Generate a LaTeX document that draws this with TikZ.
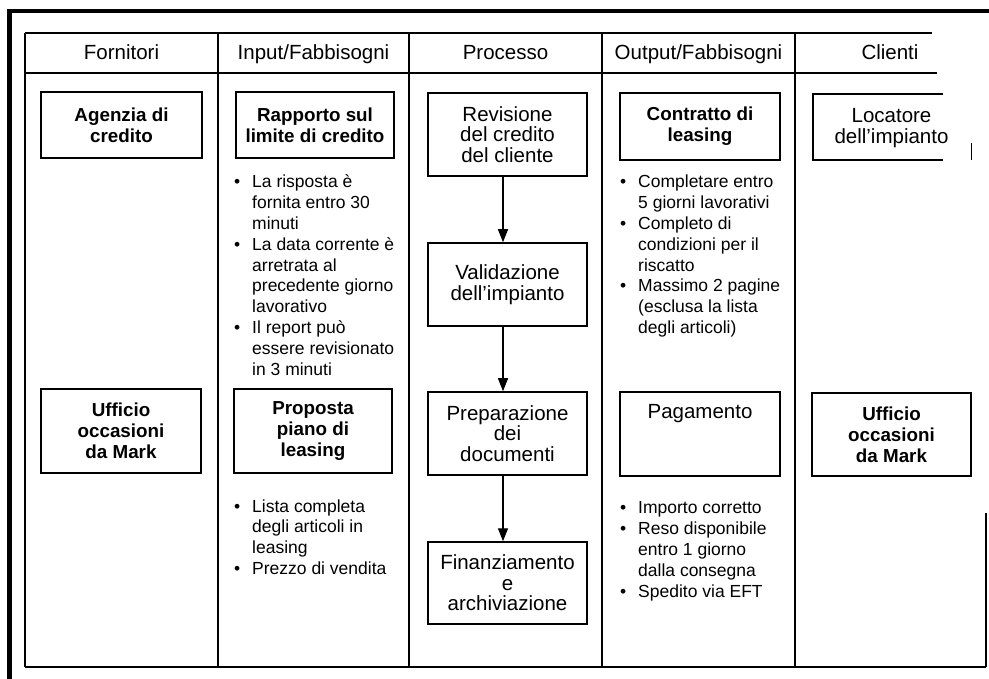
\documentclass[tikz,border=0pt]{standalone}
\usepackage{fontspec}
\setmainfont{Liberation Sans}
\usetikzlibrary{arrows.meta}

\tikzset{
  frame/.style={line width=4.2pt},
  grid/.style={line width=1.4pt},
  boldbox/.style={draw, line width=1.8pt, inner sep=0pt, align=center,
    font=\fontsize{18.8}{21}\selectfont\bfseries},
  procbox/.style={draw, line width=1.5pt, inner sep=0pt, align=center,
    font=\fontsize{20.5}{20.5}\selectfont},
  proctext/.style={inner sep=0pt, align=center,
    font=\fontsize{20.5}{21.5}\selectfont},
  head/.style={anchor=base, inner sep=0pt, font=\fontsize{20.5}{24}\selectfont},
  bullets/.style={anchor=base west, inner sep=0pt, font=\fontsize{17.5}{20.9}\selectfont},
  flow/.style={line width=1.3pt, -{Triangle[length=13pt,width=10pt]}},
}

\begin{document}
\begin{tikzpicture}[x=1pt,y=-1pt]
\useasboundingbox[fill=white] (0,0) rectangle (989,679);

% outer frame
\draw[frame] (9.5,679) -- (9.5,11) -- (989,11);

% table rules
\draw[grid] (25,33) -- (932,33);
\draw[grid] (25,73) -- (937,73);
\draw[grid] (25,667) -- (986,667);
\draw[grid] (25,33) -- (25,667);
\foreach \x in {218,409,602,795} \draw[grid] (\x,33) -- (\x,667);
\draw[grid] (986,513) -- (986,667);
\draw[line width=1pt] (971,143) -- (971,160);

% column headings
\node[head] (h1) at (121.5,60) {Fornitori};
\node[head] (h2) at (313.5,60) {Input/Fabbisogni};
\node[head] (h3) at (505.5,60) {Processo};
\node[head] (h4) at (698.5,60) {Output/Fabbisogni};
\node[head] (h5) at (890,60) {Clienti};

% first row
\node[boldbox, minimum width=161pt, minimum height=66pt] (agz) at (121.5,125) {Agenzia di\\credito};
\node[boldbox, minimum width=158pt, minimum height=66pt] (rap) at (315,125) {Rapporto sul\\limite di credito};
\node[procbox, minimum width=159pt, minimum height=83pt] (rev) at (507.5,134.5) {Revisione\\del credito\\del cliente};
\node[boldbox, minimum width=160pt, minimum height=67pt] (con) at (700,126.5) {Contratto di\\leasing};
% open box: no right side
\node[minimum width=130pt, minimum height=66pt, inner sep=0pt] (loc) at (878,127) {};
\draw[line width=1.8pt] (loc.north east) -- (loc.north west) -- (loc.south west) -- (loc.south east);
\node[proctext] (loct) at ([xshift=13.5pt,yshift=-1pt]loc.center) {Locatore\\dell’impianto};

% process chain
\node[procbox, minimum width=159pt, minimum height=83pt] (val) at (507.5,284.5) {Validazione\\dell'impianto};
\node[procbox, minimum width=159pt, minimum height=83pt] (pre) at (507.5,433.5) {Preparazione\\dei\\documenti};
\node[procbox, minimum width=159pt, minimum height=82pt] (fin) at (507.5,583) {Finanziamento\\e\\archiviazione};

% second row
\node[boldbox, minimum width=160pt, minimum height=84pt] (uf1) at (121,431) {Ufficio\\occasioni\\da Mark};
\node[boldbox, minimum width=158pt, minimum height=84pt] (pro) at (313,431) {Proposta\\piano di\\leasing};
\node[draw, line width=1.5pt, minimum width=160pt, minimum height=84pt] (pag) at (700,434) {};
\node[proctext, anchor=base] (pagt) at (700,418) {Pagamento};
\node[boldbox, minimum width=159pt, minimum height=83pt] (uf2) at (891.5,434.5) {Ufficio\\occasioni\\da Mark};

% flow arrows
\draw[flow] ([xshift=-4.5pt]rev.south) -- ([xshift=-4.5pt]val.north);
\draw[flow] ([xshift=-4.5pt]val.south) -- ([xshift=-4.5pt]pre.north);
\draw[flow] ([xshift=-4.5pt]pre.south) -- ([xshift=-4.5pt]fin.north);

% requirement lists
\node[bullets] (inA) at (234,187.5) {\begin{tabular}[t]{@{}p{18pt}@{}l@{}}
\textbullet & La risposta è\\
 & fornita entro 30\\
 & minuti\\
\textbullet & La data corrente è\\
 & arretrata al\\
 & precedente giorno\\
 & lavorativo\\
\textbullet & Il report può\\
 & essere revisionato\\
 & in 3 minuti
\end{tabular}};

\node[bullets] (outA) at (620,187.5) {\begin{tabular}[t]{@{}p{18pt}@{}l@{}}
\textbullet & Completare entro\\
 & 5 giorni lavorativi\\
\textbullet & Completo di\\
 & condizioni per il\\
 & riscatto\\
\textbullet & Massimo 2 pagine\\
 & (esclusa la lista\\
 & degli articoli)
\end{tabular}};

\node[bullets] (inB) at (234,512) {\begin{tabular}[t]{@{}p{18pt}@{}l@{}}
\textbullet & Lista completa\\
 & degli articoli in\\
 & leasing\\
\textbullet & Prezzo di vendita
\end{tabular}};

\node[bullets] (outB) at (620,513.5) {\begin{tabular}[t]{@{}p{18pt}@{}l@{}}
\textbullet & Importo corretto\\
\textbullet & Reso disponibile\\
 & entro 1 giorno\\
 & dalla consegna\\
\textbullet & Spedito via EFT
\end{tabular}};
\end{tikzpicture}
\end{document}
